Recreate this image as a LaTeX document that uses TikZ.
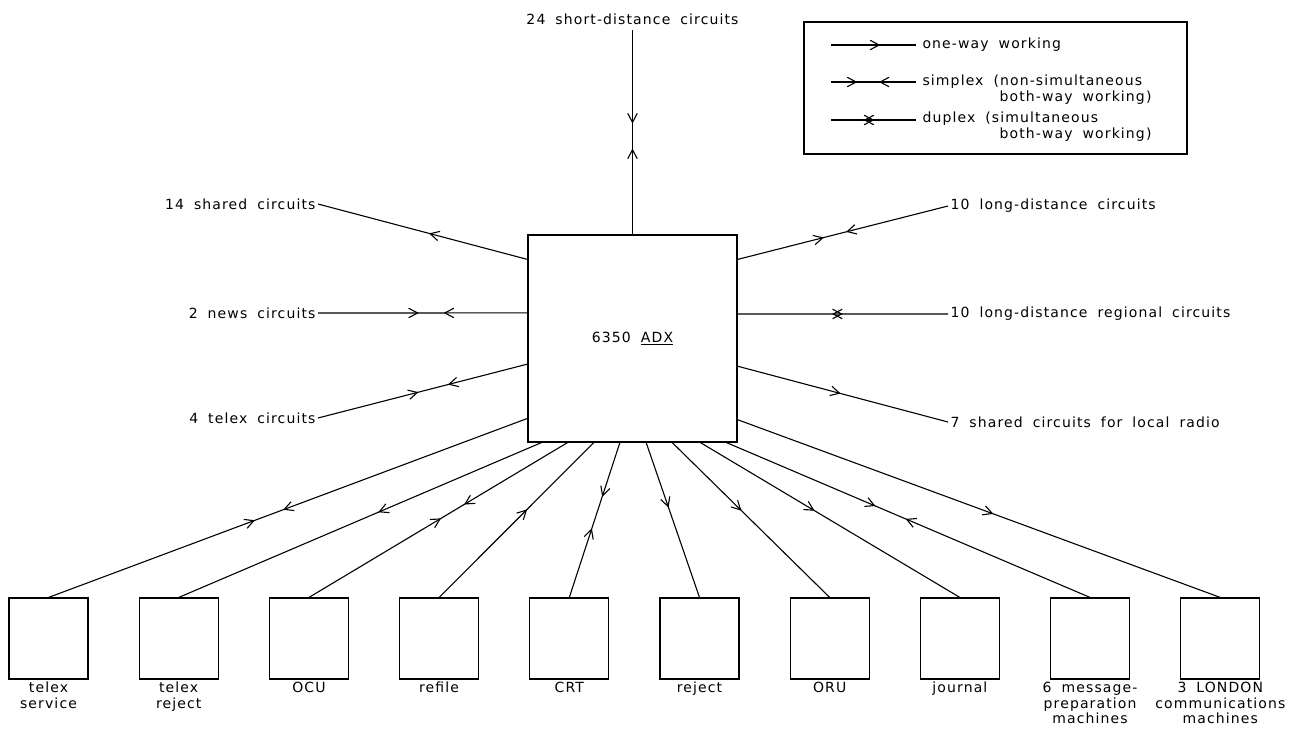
\documentclass[tikz,border=0pt]{standalone}
\usepackage{fontspec}
\setmainfont{DejaVu Sans}[LetterSpace=8,WordSpace=1.8]
\usetikzlibrary{arrows.meta,decorations.markings,calc}
\begin{document}
\begin{tikzpicture}[x=1pt,y=-1pt,line width=1.1pt,
  >={Straight Barb[length=9pt,width=9.5pt]},
  lbl/.style={font=\fontsize{14}{15.5}\selectfont, inner sep=2pt},
  sbox/.style={draw, minimum width=79pt, minimum height=81pt, inner sep=0pt},
  fwd/.style={postaction={decorate,decoration={markings,mark=at position #1 with {\arrow{>}}}}},
  bwd/.style={postaction={decorate,decoration={markings,mark=at position #1 with {\arrow{<}}}}},
  dup/.style={postaction={decorate,decoration={markings,mark=at position #1 with {\arrow{>}\arrow{<}}}}}]
\useasboundingbox (0,0) rectangle (1290,729);

% central exchange
\node[draw, lbl, minimum width=209pt, minimum height=207pt] (adx) at (632.5,338.5) {6350 \underline{ADX}};

% attachment points on the exchange
\coordinate (w1) at ($(adx.north west)!0.12!(adx.south west)$);
\coordinate (w2) at ($(adx.north west)!0.377!(adx.south west)$);
\coordinate (w3) at ($(adx.north west)!0.623!(adx.south west)$);
\coordinate (w4) at ($(adx.north west)!0.884!(adx.south west)$);
\coordinate (e1) at ($(adx.north east)!0.12!(adx.south east)$);
\coordinate (e2) at ($(adx.north east)!0.382!(adx.south east)$);
\coordinate (e3) at ($(adx.north east)!0.633!(adx.south east)$);
\coordinate (e4) at ($(adx.north east)!0.89!(adx.south east)$);
\coordinate (s1) at ($(adx.south west)!0.067!(adx.south east)$);
\coordinate (s2) at ($(adx.south west)!0.191!(adx.south east)$);
\coordinate (s3) at ($(adx.south west)!0.316!(adx.south east)$);
\coordinate (s4) at ($(adx.south west)!0.44!(adx.south east)$);
\coordinate (s5) at ($(adx.south west)!0.565!(adx.south east)$);
\coordinate (s6) at ($(adx.south west)!0.689!(adx.south east)$);
\coordinate (s7) at ($(adx.south west)!0.823!(adx.south east)$);
\coordinate (s8) at ($(adx.south west)!0.947!(adx.south east)$);

% top
\node[lbl, inner sep=5pt] (t24) at (632.5,19) {24 short-distance circuits};
\draw[fwd=0.42, bwd=0.595] (adx.north) -- (t24.south);

% left
\node[lbl, anchor=east] (l14) at (318,204) {14 shared circuits};
\node[lbl, anchor=east] (l2) at (318,313) {2 news circuits};
\node[lbl, anchor=east] (l4) at (318,418) {4 telex circuits};
\draw[fwd=0.47] (w1) -- (l14.east);
\draw[fwd=0.40, bwd=0.57] (w2) -- (l2.east);
\draw[fwd=0.38, bwd=0.57] (w3) -- (l4.east);

% right
\node[lbl, anchor=west] (r10) at (948,206) {10 long-distance circuits};
\node[lbl, anchor=west] (rreg) at (948,314) {10 long-distance regional circuits};
\node[lbl, anchor=west] (r7) at (948,422) {7 shared circuits for local radio};
\draw[fwd=0.41, bwd=0.565] (e1) -- (r10.west);
\draw[dup=0.5] (e2) -- (rreg.west);
\draw[fwd=0.49] (e3) -- (r7.west);

% bottom terminals
\node[sbox] (b1) at (48.5,638.5) {};
\node[sbox] (b2) at (178.7,638.5) {};
\node[sbox] (b3) at (308.9,638.5) {};
\node[sbox] (b4) at (439.1,638.5) {};
\node[sbox] (b5) at (569.3,638.5) {};
\node[sbox] (b6) at (699.5,638.5) {};
\node[sbox] (b7) at (829.7,638.5) {};
\node[sbox] (b8) at (959.9,638.5) {};
\node[sbox] (b9) at (1090.1,638.5) {};
\node[sbox] (b10) at (1220.3,638.5) {};

\node[lbl, anchor=north, align=center] (c1) at (b1.south) {telex\\service};
\node[lbl, anchor=north, align=center] (c2) at (b2.south) {telex\\reject};
\node[lbl, anchor=north, align=center] (c3) at (b3.south) {OCU};
\node[lbl, anchor=north, align=center] (c4) at (b4.south) {refile};
\node[lbl, anchor=north, align=center] (c5) at (b5.south) {CRT};
\node[lbl, anchor=north, align=center] (c6) at (b6.south) {reject};
\node[lbl, anchor=north, align=center] (c7) at (b7.south) {ORU};
\node[lbl, anchor=north, align=center] (c8) at (b8.south) {journal};
\node[lbl, anchor=north, align=center] (c9) at (b9.south) {6 message-\\preparation\\machines};
\node[lbl, anchor=north, align=center] (c10) at (b10.south) {3 LONDON\\communications\\machines};

\draw[fwd=0.51, bwd=0.59] (w4) -- (b1.north);
\draw[fwd=0.45] (s1) -- (b2.north);
\draw[fwd=0.40, bwd=0.525] (s2) -- (b3.north);
\draw[bwd=0.48] (s3) -- (b4.north);
\draw[fwd=0.35, bwd=0.62] (s4) -- (b5.north);
\draw[fwd=0.42] (s5) -- (b6.north);
\draw[fwd=0.44] (s6) -- (b7.north);
\draw[fwd=0.44] (s7) -- (b8.north);
\draw[fwd=0.41, bwd=0.52] (s8) -- (b9.north);
\draw[fwd=0.53] (e4) -- (b10.north);

% legend
\node[draw, minimum width=383pt, minimum height=132pt, inner sep=0pt] (leg) at (995.5,88) {};
\coordinate (k1a) at (831,45);  \coordinate (k1b) at (916,45);
\coordinate (k2a) at (831,82);  \coordinate (k2b) at (916,82);
\coordinate (k3a) at (831,120); \coordinate (k3b) at (916,120);
\draw[fwd=0.58] (k1a) -- (k1b);
\draw[fwd=0.31, bwd=0.69] (k2a) -- (k2b);
\draw[dup=0.51] (k3a) -- (k3b);
\node[lbl, anchor=west] (k1t) at (920,45) {one-way working};
\node[lbl, anchor=west] (k2t) at (920,82) {simplex (non-simultaneous};
\node[lbl, anchor=west] (k2u) at (997,98) {both-way working)};
\node[lbl, anchor=west] (k3t) at (920,119) {duplex (simultaneous};
\node[lbl, anchor=west] (k3u) at (997,135) {both-way working)};
\end{tikzpicture}
\end{document}
